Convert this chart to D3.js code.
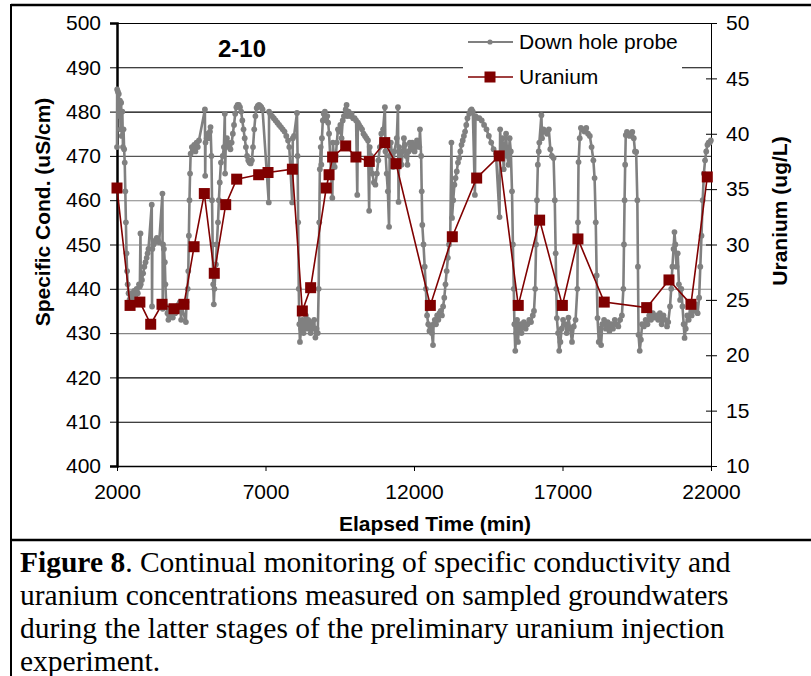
<!DOCTYPE html>
<html>
<head>
<meta charset="utf-8">
<script src="https://cdn.jsdelivr.net/npm/d3@7"></script>
<style>
  body { margin: 0; background: #fff; }
  svg { display: block; }
</style>
</head>
<body>
<div id="chart"></div>
<script>
"use strict";

// Down hole probe readings: [elapsed min, specific cond uS/cm]
const probe = [
  [2000,472],[2005,485],[2030,484.5],[2060,484],[2080,479],[2100,482.5],[2120,476],[2140,482],[2160,474.5],
  [2180,480],[2200,472],[2220,476],[2240,471.5],[2260,468.5],[2280,462],[2300,455],[2320,448],[2340,444],
  [2360,441],[2390,439],[2420,437.5],[2460,438],[2500,439],[2540,437.5],[2580,439.5],[2620,438],[2660,440],
  [2700,439],[2740,441],[2770,440.5],[2790,452.5],[2800,441],[2840,442],[2880,443.5],[2920,445],[2960,446],
  [3000,447],[3030,448],[3060,449],[3170,459],[3180,436],[3190,449],[3230,450],[3270,450.5],[3300,451],
  [3340,451.5],[3380,451],[3420,450.5],[3530,461.5],[3540,435.5],[3550,450],[3580,449],[3610,446],[3630,441],
  [3660,436],[3700,434.5],[3730,433],[3760,434],[3800,435.5],[3840,434],[3880,433.5],[3920,435],[3960,434.5],
  [4000,436],[4040,435],[4080,436.5],[4120,437],[4160,433],[4180,436],[4320,432.5],[4340,437],[4380,440],
  [4400,444],[4420,452],[4440,460],[4460,466],[4480,470.5],[4520,472],[4560,471.5],[4600,472.5],[4640,471],
  [4680,473],[4720,472],[4760,473.5],[4960,480.5],[4970,465.5],[4980,473],[5020,474],[5060,475],[5100,474],
  [5130,475.5],[5150,476.5],[5180,470],[5200,460],[5220,450],[5240,441],[5260,436.5],[5280,440],[5330,445.5],
  [5360,450],[5400,455],[5430,460],[5460,464],[5500,468.5],[5560,470],[5600,472],[5630,479.5],[5640,466],
  [5660,472],[5700,474],[5740,473],[5780,472],[5820,471.5],[5860,473],[5900,475],[5940,477],[5980,479.5],
  [6020,481],[6060,481.5],[6100,481.5],[6140,481],[6180,480],[6220,478],[6260,476],[6300,474],[6340,472],
  [6380,470],[6420,469],[6460,468.5],[6500,468.3],[6540,469],[6580,472],[6620,476],[6660,479],[6700,480.8],
  [6740,481.3],[6780,481.5],[6820,481.3],[6860,481],[6900,480.5],[7110,459.5],[7120,480],[7160,479.5],
  [7220,479],[7280,478.5],[7340,478],[7400,477.5],[7460,477],[7520,476.5],[7580,476],[7640,475.5],[7700,474.5],
  [7760,473.5],[7800,472],[7900,459.5],[7920,474],[7960,474.5],[8060,479.7],[8080,470],[8100,455],[8120,440],
  [8140,432],[8160,428],[8200,431],[8240,433],[8280,430],[8320,432],[8360,434],[8400,431],[8440,433],
  [8480,432],[8520,430],[8560,432.5],[8600,431],[8640,433],[8680,429],[8720,431],[8760,430],[8790,440],
  [8810,455],[8830,467],[8860,472],[8880,468],[8900,474],[8930,478],[8960,479.5],[9000,480],[9040,478],
  [9080,479],[9110,477.5],[9140,475],[9250,460.5],[9270,473],[9300,470],[9330,467.5],[9370,470],[9400,473],
  [9440,476],[9480,475.5],[9520,477],[9560,474],[9600,478],[9640,479],[9700,480.5],[9730,481.5],[9750,479],
  [9800,480],[9850,479],[9900,479.5],[9950,478.5],[10000,478.5],[10050,478],[10090,461.2],[10110,477.5],
  [10150,477],[10200,476.5],[10250,476],[10300,475],[10350,474.5],[10400,474],[10450,473.5],[10490,457.6],
  [10510,472],[10550,470],[10600,466],[10650,464],[10700,463.5],[10750,466],[10800,469],[10850,472],
  [10900,475],[10960,476],[11020,481],[11040,471],[11080,466],[11120,462],[11160,454],[11180,470],[11220,473],
  [11260,470],[11300,467.5],[11340,471],[11420,474],[11460,481],[11480,459.6],[11500,472],[11540,470],
  [11580,468],[11620,471],[11660,474],[11700,472.5],[11740,470],[11780,468],[11820,471],[11860,473],
  [11900,471.5],[11940,473],[11980,472.5],[12020,471],[12060,472],[12100,473.5],[12140,473],[12180,472],
  [12200,476],[12240,470],[12260,462],[12280,454.4],[12320,450],[12360,445],[12400,440],[12440,434],
  [12480,432],[12520,430.5],[12560,431.5],[12600,430],[12640,427.3],[12660,432],[12700,433],[12740,432],
  [12780,434],[12820,433],[12860,434.5],[12900,435],[12940,434],[12980,436],[13020,438],[13060,441],
  [13100,444],[13140,447],[13180,450],[13220,452],[13260,473],[13280,456],[13320,460],[13360,463.5],
  [13400,465],[13440,466.5],[13480,468.5],[13520,469.5],[13560,471],[13600,472.5],[13640,473.5],[13680,474.5],
  [13720,475.5],[13760,477],[13800,478.5],[13860,479.5],[13900,480.2],[13940,480.5],[13980,480],[14050,461.2],
  [14070,479],[14120,478.6],[14200,478.5],[14280,478],[14360,477],[14440,476],[14520,474.5],[14600,473],
  [14680,471.5],[14760,470.5],[14880,456.2],[14900,476],[14940,470],[14980,474],[15020,467],[15060,472],
  [15100,475],[15140,470],[15180,468],[15220,474],[15260,471],[15300,462],[15330,450],[15360,440],[15380,432],
  [15410,426],[15440,430],[15470,433],[15500,428],[15530,431],[15580,432],[15620,430],[15660,431.5],
  [15700,432.5],[15760,431],[15820,432],[15880,433],[15940,432.5],[16000,434],[16040,435],[16080,440],
  [16110,450],[16140,460],[16170,468],[16200,471],[16220,473],[16290,479.2],[16310,474],[16360,476],
  [16420,475.5],[16480,475],[16540,476],[16590,471.5],[16640,470],[16700,469.5],[16740,460],[16770,448],
  [16790,440],[16810,433.4],[16850,430],[16890,426],[16930,428],[16970,431],[17020,433],[17080,432],
  [17140,430],[17200,433.5],[17260,431],[17320,428],[17380,431.5],[17440,433],[17500,440],[17520,455],
  [17540,468.6],[17580,474],[17620,476.3],[17680,476],[17740,475.5],[17800,476.3],[17860,475],[17920,474.5],
  [17980,472],[18040,469],[18080,465],[18120,455],[18150,443],[18180,433.4],[18220,428],[18260,431],
  [18300,427.3],[18340,432],[18400,433],[18460,431],[18520,432.5],[18580,430.5],[18640,432],[18700,431],
  [18760,433],[18820,432],[18880,431.5],[18940,433],[19000,434],[19050,440],[19070,450],[19090,460],
  [19110,468],[19130,474.7],[19170,475.4],[19220,475],[19260,474.5],[19300,474.8],[19350,475.4],[19400,474],
  [19440,471],[19480,470.9],[19520,460],[19540,445],[19560,429.6],[19600,426],[19640,428.5],[19680,432],
  [19740,431.5],[19800,433],[19860,432],[19920,434],[19980,433],[20040,434.5],[20100,433.5],[20160,434],
  [20220,433],[20280,434.5],[20340,432],[20400,434],[20460,433],[20520,431.5],[20560,432.5],[20620,436],
  [20660,440],[20700,445],[20740,449],[20770,452.8],[20800,450],[20840,445],[20880,448],[20920,441],
  [20960,437.5],[21000,440],[21040,436],[21080,432],[21110,428.9],[21150,431],[21200,434],[21250,433],
  [21300,436],[21350,434],[21400,437],[21450,435],[21500,436.5],[21550,434.5],[21600,438],[21640,445],
  [21680,452],[21720,460],[21760,466],[21800,469],[21840,471],[21880,472.5],[21920,473],[21960,473],
  [21995,473.5]
];

// Uranium in sampled groundwater: [elapsed min, ug/L]
const uranium = [
  [2000,35.1],[2440,24.5],[2770,24.8],[3135,22.8],[3515,24.6],[3920,24.2],[4255,24.6],[4595,29.8],
  [4940,34.6],[5275,27.4],[5660,33.6],[6030,35.9],[6770,36.3],[7085,36.5],[7905,36.8],[8240,24.0],
  [8520,26.1],[9045,35.1],[9140,36.3],[9260,37.9],[9700,38.9],[10045,37.9],[10495,37.5],[11015,39.2],
  [11395,37.3],[12550,24.5],[13290,30.7],[14110,36.0],[14870,38.0],[15510,24.5],[16230,32.2],[16995,24.5],
  [17520,30.5],[18405,24.8],[19835,24.3],[20585,26.8],[21325,24.6],[21875,36.1]
];

const condTicks = d3.range(400, 501, 10);
const uraniumTicks = d3.range(10, 51, 5);
const timeTicks = [2000, 7000, 12000, 17000, 22000];

const captionLines = [
  [{ t: "Figure 8", b: true }, { t: ". Continual monitoring of specific conductivity and", b: false }],
  [{ t: "uranium concentrations measured on sampled groundwaters", b: false }],
  [{ t: "during the latter stages of the preliminary uranium injection", b: false }],
  [{ t: "experiment.", b: false }]
];

const W = 811, H = 676;
const m = { left: 117, right: 711, top: 23, bottom: 466 };
const font = "Arial, 'Liberation Sans', sans-serif";

const svg = d3.select("#chart").append("svg")
  .attr("width", W).attr("height", H);

// frame around figure and caption
svg.append("line").attr("x1", 11).attr("x2", W).attr("y1", 5).attr("y2", 5)
  .attr("stroke", "#000").attr("stroke-width", 2.5);
svg.append("line").attr("x1", 11).attr("x2", 11).attr("y1", 4).attr("y2", H)
  .attr("stroke", "#000").attr("stroke-width", 2);
svg.append("line").attr("x1", 11).attr("x2", W).attr("y1", 540).attr("y2", 540)
  .attr("stroke", "#000").attr("stroke-width", 2.5);

const x = d3.scaleLinear().domain([2000, 22000]).range([m.left, m.right]);
const yL = d3.scaleLinear().domain([400, 500]).range([m.bottom, m.top]);
const yR = d3.scaleLinear().domain([10, 50]).range([m.bottom, m.top]);

// gridlines (lighter where they pass behind the data band)
function gridColor(v) {
  if (v >= 430 && v <= 460) return "#858585";
  if (v === 470) return "#555";
  return "#000";
}
svg.append("g").selectAll("line").data(condTicks.slice(1)).join("line")
  .attr("x1", m.left).attr("x2", m.right)
  .attr("y1", d => yL(d) + 0.5).attr("y2", d => yL(d) + 0.5)
  .attr("stroke", gridColor).attr("stroke-width", 1.1);

// left axis
const gL = svg.append("g").attr("transform", `translate(${m.left},0)`)
  .call(d3.axisLeft(yL).tickValues(condTicks).tickSize(7).tickPadding(9));
gL.select(".domain").attr("stroke-width", 2.5);
gL.selectAll("text").attr("font-size", 21).attr("font-family", font).attr("fill", "#000");

// right axis, ticks crossing the line
const gR = svg.append("g").attr("transform", `translate(${m.right},0)`)
  .call(d3.axisRight(yR).tickValues(uraniumTicks).tickSizeInner(6).tickSizeOuter(0).tickPadding(9));
gR.selectAll(".tick line").attr("x1", -5).attr("x2", 6);
gR.selectAll("text").attr("font-size", 21).attr("font-family", font).attr("fill", "#000");

// bottom axis
const gB = svg.append("g").attr("transform", `translate(0,${m.bottom})`)
  .call(d3.axisBottom(x).tickValues(timeTicks).tickFormat(d3.format("d")).tickSizeInner(5).tickSizeOuter(0).tickPadding(13));
gB.select(".domain").attr("stroke-width", 1.5);
gB.selectAll("text").attr("font-size", 21).attr("font-family", font).attr("fill", "#000");

// probe series
const probeLine = d3.line().x(d => x(d[0])).y(d => yL(d[1]));
svg.append("path").datum(probe)
  .attr("d", probeLine).attr("fill", "none")
  .attr("stroke", "#808080").attr("stroke-width", 2.6).attr("stroke-linejoin", "round");
svg.append("g").selectAll("circle").data(probe).join("circle")
  .attr("cx", d => x(d[0])).attr("cy", d => yL(d[1])).attr("r", 2.9)
  .attr("fill", "#808080");

// uranium series
const uLine = d3.line().x(d => x(d[0])).y(d => yR(d[1]));
svg.append("path").datum(uranium)
  .attr("d", uLine).attr("fill", "none")
  .attr("stroke", "#800000").attr("stroke-width", 1.6);
const sq = 11;
svg.append("g").selectAll("rect").data(uranium).join("rect")
  .attr("x", d => x(d[0]) - sq / 2).attr("y", d => yR(d[1]) - sq / 2)
  .attr("width", sq).attr("height", sq).attr("fill", "#800000");

// title
svg.append("text").attr("x", 242).attr("y", 57).attr("text-anchor", "middle")
  .attr("font-family", font).attr("font-weight", "bold").attr("font-size", 24)
  .text("2-10");

// legend
svg.append("rect").attr("x", 463).attr("y", 26).attr("width", 219).attr("height", 74).attr("fill", "#fff");
const lg = svg.append("g").attr("font-family", font).attr("font-size", 21);
lg.append("line").attr("x1", 468).attr("x2", 513).attr("y1", 42).attr("y2", 42)
  .attr("stroke", "#808080").attr("stroke-width", 2);
lg.append("circle").attr("cx", 490).attr("cy", 42).attr("r", 2.6).attr("fill", "#808080");
lg.append("text").attr("x", 519).attr("y", 49).text("Down hole probe");
lg.append("line").attr("x1", 468).attr("x2", 513).attr("y1", 77).attr("y2", 77)
  .attr("stroke", "#800000").attr("stroke-width", 1.6);
lg.append("rect").attr("x", 490 - sq / 2).attr("y", 77 - sq / 2).attr("width", sq).attr("height", sq)
  .attr("fill", "#800000");
lg.append("text").attr("x", 519).attr("y", 84).text("Uranium");

// axis titles
svg.append("text").attr("transform", "translate(50,212) rotate(-90)")
  .attr("text-anchor", "middle").attr("font-family", font).attr("font-weight", "bold").attr("font-size", 21)
  .text("Specific Cond. (uS/cm)");
svg.append("text").attr("transform", "translate(787,211) rotate(-90)")
  .attr("text-anchor", "middle").attr("font-family", font).attr("font-weight", "bold").attr("font-size", 21)
  .text("Uranium (ug/L)");
svg.append("text").attr("x", 435).attr("y", 531)
  .attr("text-anchor", "middle").attr("font-family", font).attr("font-weight", "bold").attr("font-size", 21)
  .text("Elapsed Time (min)");

// caption
const cap = svg.append("g").attr("font-family", "'Times New Roman', 'Liberation Serif', serif")
  .attr("font-size", 29.5);
captionLines.forEach((parts, i) => {
  const t = cap.append("text").attr("x", 20).attr("y", 572 + i * 33);
  parts.forEach(p => {
    t.append("tspan").attr("font-weight", p.b ? "bold" : "normal").text(p.t);
  });
});
</script>
</body>
</html>
